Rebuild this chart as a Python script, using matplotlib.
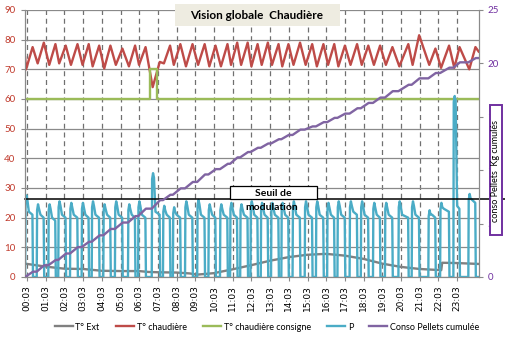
import matplotlib
matplotlib.use("Agg")
import matplotlib.pyplot as plt
from matplotlib.patches import Rectangle

plt.rcParams['font.family'] = ['Lato', 'DejaVu Sans']

# ---------------- data ----------------
hour_labels = ["%02d:03" % h for h in range(24)]

# boiler burner pulses (P): start hour, duration, peak, plateau before stop
pulse_start = [-0.1, 0.52, 1.14, 1.67, 2.3, 2.92, 3.46, 4.08, 4.7, 5.4, 5.94, 6.67,
               7.27, 7.8, 8.45, 9.1, 9.7, 10.32, 10.86, 11.4, 11.95, 12.5, 13.05,
               13.6, 14.2, 14.85, 15.45, 16.05, 16.6, 17.25, 17.85, 18.5, 19.14,
               19.86, 20.57, 21.46, 22.09, 22.8, 23.6]
pulse_width = [0.42, 0.4, 0.4, 0.42, 0.42, 0.4, 0.42, 0.4, 0.42, 0.4, 0.42, 0.45,
               0.4, 0.42, 0.42, 0.42, 0.4, 0.42, 0.4, 0.42, 0.4, 0.4, 0.42,
               0.4, 0.42, 0.42, 0.42, 0.4, 0.42, 0.42, 0.42, 0.4, 0.42,
               0.55, 0.42, 0.4, 0.5, 0.35, 0.4]
pulse_peak = [27.5, 24.5, 24.5, 25.5, 25, 25, 25.5, 24.5, 25.5, 24.5, 25.5, 35,
              24, 23.5, 25.5, 26, 24.5, 24.5, 25, 24.5, 25.5, 25, 25,
              25, 25.5, 25.5, 25.5, 25, 25.5, 25.5, 25.5, 25, 25,
              25.5, 25.5, 22.5, 25, 61, 28]
pulse_tail = [21, 20, 19, 20, 20, 20, 20, 20, 20, 20, 20, 21,
              20, 20, 20, 20, 20, 20, 20, 20, 20, 20, 20,
              20, 20, 20, 20, 20, 20, 21, 20, 20, 20,
              20, 20, 20, 22, 23, 25]

# boiler temperature per cycle
chaud_trough = [70, 72, 71.5, 72, 71.5, 71.5, 71, 70.3, 71.5, 71, 71.5, 64,
                72, 71.5, 71, 71.5, 71, 71, 71.5, 71.5, 71, 71.5, 71.5,
                71, 71.5, 71.5, 71, 71.5, 71, 71.5, 71.5, 71.5, 71.5,
                71, 71.5, 71.5, 70.5, 70.5, 70]
chaud_peak = [77.5, 79, 78.5, 78, 78.5, 78.5, 78, 78, 77, 78, 77.5, 72.5,
              78, 78.5, 78.5, 78.5, 78, 78.5, 79, 79, 78.5, 79, 78.5,
              78.5, 79, 78.5, 78.5, 78.5, 78, 78.5, 78, 78, 77.5,
              78.5, 81.5, 77, 78, 77.5, 77.5]
chaud_first = 74
chaud_last = 76

# setpoint
consigne_t = [-0.1, 6.6, 6.6, 6.95, 6.95, 24.15]
consigne_v = [60, 60, 70, 70, 60, 60]

# outside temperature
ext_t = [-0.1, 1, 2, 3, 4, 5, 6, 6.5, 7, 8, 8.7, 9.1, 10, 11, 12, 13, 14, 15, 16,
         17, 18, 19, 20, 21, 22.15, 22.2, 23, 24.15]
ext_v = [4.5, 3.5, 2.8, 2.7, 2.1, 2.0, 2.0, 1.7, 1.6, 1.5, 1.2, 0.8, 1.3, 2.6, 4.0,
         5.5, 6.7, 7.5, 7.8, 7.2, 6.1, 4.5, 3.4, 2.7, 2.3, 4.8, 4.7, 4.4]

# cumulated pellets (kg) at each pulse start, plus final value
cum_kg = [0, 0.5, 1.1, 1.6, 2.2, 2.8, 3.3, 3.9, 4.5, 5.1, 5.7, 6.4,
          7.2, 7.7, 8.3, 8.9, 9.6, 10.1, 10.6, 11.2, 11.7, 12.1, 12.5,
          12.9, 13.3, 13.8, 14.1, 14.5, 14.9, 15.3, 15.8, 16.3, 16.8,
          17.4, 18.0, 18.6, 19.1, 19.6, 20.1, 20.5]

seuil = 26.3

# ---------------- build polylines ----------------
p_t, p_v = [], []
for s, w, pk, tl in zip(pulse_start, pulse_width, pulse_peak, pulse_tail):
    p_t += [s, s + 0.02, s + 0.07, s + 0.12, s + 0.2, s + w - 0.03, s + w]
    p_v += [0, pk - 2, pk, pk - 1.5, tl + 1, tl, 0]
p_t.append(24.15); p_v.append(0)

c_t, c_v = [-0.1], [chaud_first]
for s, w, tr, pk in zip(pulse_start, pulse_width, chaud_trough, chaud_peak):
    c_t += [s + 0.05, s + w - 0.02]
    c_v += [tr, pk]
c_t[1] = max(c_t[1], -0.05)
c_t.append(24.15); c_v.append(chaud_last)

k_t, k_v = [], []
for i, (s, w) in enumerate(zip(pulse_start, pulse_width)):
    k_t += [s, s + w]
    k_v += [cum_kg[i], cum_kg[i + 1]]
k_t.append(24.15); k_v.append(cum_kg[-1])

# ---------------- figure ----------------
W, H = 505, 337
fig = plt.figure(figsize=(W / 100, H / 100), dpi=100)
x0, x1, y0, y1 = 25, 479, 10, 277
ax = fig.add_axes([x0 / W, 1 - y1 / H, (x1 - x0) / W, (y1 - y0) / H])
ax2 = ax.twinx()

col_ext = '#808080'
col_ch = '#be4b48'
col_cons = '#9bbb59'
col_p = '#4bacc6'
col_kg = '#8064a2'
grid_col = '#8a8a8a'

lw = 1.7
ax.plot(ext_t, ext_v, color=col_ext, lw=lw, label='T° Ext', zorder=3)
ax.plot(c_t, c_v, color=col_ch, lw=lw, label='T° chaudière', zorder=3)
ax.plot(consigne_t, consigne_v, color=col_cons, lw=lw, label='T° chaudière consigne', zorder=3)
ax.plot(p_t, p_v, color=col_p, lw=lw, label='P', zorder=4)
ax2.plot(k_t, k_v, color=col_kg, lw=lw, label='Conso Pellets cumulée', zorder=3)

ax.set_xlim(-0.107, 24.17)
ax.set_ylim(0, 90)
ax2.set_ylim(0, 25)
ax.set_yticks(range(0, 91, 10))
ax2.set_yticks(range(0, 26, 5))
ax.set_xticks(range(24))
ax.set_xticklabels(hour_labels, rotation=90, fontsize=6.5, family=['DejaVu Sans'])

ax.yaxis.grid(True, color=grid_col, lw=0.9, ls='-')
ax.xaxis.grid(True, color='#707070', lw=0.9, ls=(0, (4, 3)))
ax.set_axisbelow(True)

for a in (ax, ax2):
    for sp in a.spines.values():
        sp.set_color(grid_col)
    a.spines['top'].set_visible(False)
ax.tick_params(axis='y', colors=grid_col, labelcolor='#c0392b', labelsize=7, length=3, pad=4)
ax.tick_params(axis='x', colors=grid_col, labelcolor='black', length=3, pad=3)
ax2.tick_params(axis='y', colors=grid_col, labelcolor='#7030a0', labelsize=7, length=3, pad=3)

# threshold line across the plot and beyond
ax.plot([0, 1.07], [seuil / 90, seuil / 90], transform=ax.transAxes, color='black',
        lw=1.1, clip_on=False, zorder=10)

# Seuil de modulation box
fig.patches.append(Rectangle((230 / W, 1 - 199 / H), 87 / W, 13 / H,
                             transform=fig.transFigure, facecolor='white',
                             edgecolor='black', lw=0.9, zorder=11))
fig.text(273 / W, 1 - 193 / H, 'Seuil de', ha='center', va='center', fontsize=7.5,
         fontweight='bold', zorder=12)
fig.text(272 / W, 1 - 207 / H, 'modulation', ha='center', va='center', fontsize=7.5,
         fontweight='bold', zorder=12)

# title box
fig.patches.append(Rectangle((175 / W, 1 - 26 / H), 165 / W, 22 / H,
                             transform=fig.transFigure, facecolor='#eeece1',
                             edgecolor='none', zorder=11))
fig.text(257 / W, 1 - 15.5 / H, 'Vision globale  Chaudière', ha='center', va='center',
         fontsize=8.5, fontweight='bold', zorder=12)

# right axis title box
fig.patches.append(Rectangle((490 / W, 1 - 235 / H), 12 / W, 130 / H,
                             transform=fig.transFigure, facecolor='white',
                             edgecolor='#7030a0', lw=1.4, zorder=9))
fig.text(496 / W, 1 - 171 / H, 'conso Pellets  Kg cumulés', rotation=90, ha='center',
         va='center', fontsize=6.5, zorder=10)

# legend
h1, l1 = ax.get_legend_handles_labels()
h2, l2 = ax2.get_legend_handles_labels()
fig.legend(h1 + h2, l1 + l2, loc='center', bbox_to_anchor=(267 / W, 1 - 327 / H),
           ncol=5, frameon=False, fontsize=6.5, handlelength=2.0, handletextpad=0.3,
           columnspacing=1.8)

fig.savefig('out.png', dpi=100)
